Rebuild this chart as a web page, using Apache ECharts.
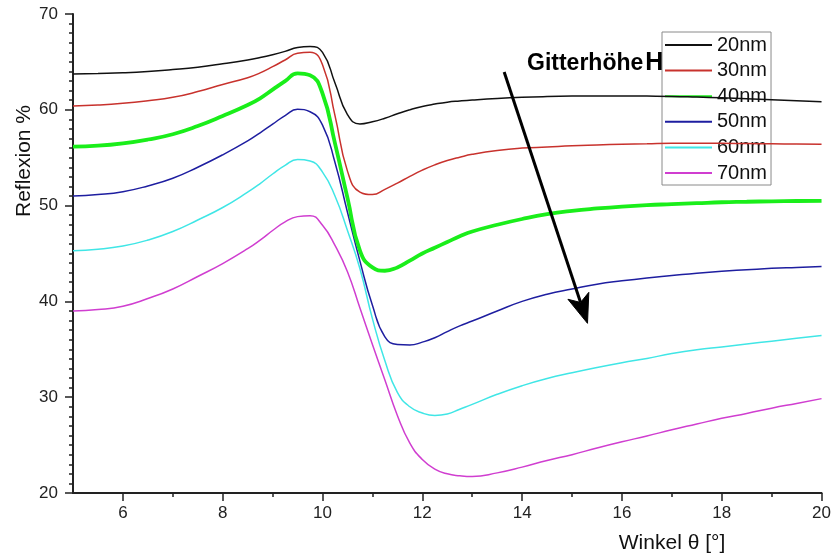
<!DOCTYPE html>
<html>
<head>
<meta charset="utf-8">
<script src="https://cdn.jsdelivr.net/npm/echarts@6/dist/echarts.min.js"></script>
<style>
  html, body { margin: 0; padding: 0; background: #fff; }
  #chart { width: 834px; height: 557px; }
</style>
</head>
<body>
<div id="chart"></div>
<script>
// Angle of incidence (degrees): coarse on the flanks, finer around the resonance
const angles = [
  5, 5.5, 6, 6.5, 7, 7.5, 8, 8.5,
  8.75, 9, 9.25, 9.5, 9.75, 10, 10.25, 10.5, 10.75, 11, 11.25, 11.5, 11.75, 12, 12.25, 12.5, 12.75, 13,
  13.5, 14, 14.5, 15, 15.5, 16, 16.5, 17, 17.5, 18, 18.5, 19, 19.5, 20];

// Reflection (%) for each grating height
const h20 = [
  63.74, 63.8, 63.87, 64.0, 64.2, 64.45, 64.8, 65.2,
  65.45, 65.75, 66.1, 66.5, 66.62, 66.0, 62.8, 59.5, 58.52, 58.75, 59.12, 59.58, 60.0, 60.35, 60.6, 60.8, 60.92, 61.02,
  61.18, 61.3, 61.38, 61.43, 61.45, 61.45, 61.43, 61.4, 61.33, 61.25, 61.15, 61.05, 60.95, 60.85];
const h30 = [
  60.4, 60.5, 60.68, 60.95, 61.3, 61.9, 62.65, 63.35,
  63.85, 64.5, 65.2, 65.9, 66.0, 64.7, 59.4, 53.6, 51.4, 51.15, 51.7, 52.35, 53.05, 53.7, 54.25, 54.7, 55.05, 55.35,
  55.75, 56.0, 56.12, 56.25, 56.33, 56.4, 56.45, 56.5, 56.5, 56.5, 56.47, 56.45, 56.43, 56.4];
const h40 = [
  56.15, 56.25, 56.5, 56.9, 57.45, 58.3, 59.35, 60.5,
  61.2, 62.1, 63.0, 63.8, 63.6, 61.7, 56.5, 50.8, 45.3, 43.55, 43.2, 43.55, 44.25, 45.0, 45.6, 46.2, 46.8, 47.3,
  48.0, 48.6, 49.1, 49.45, 49.7, 49.9, 50.05, 50.15, 50.25, 50.35, 50.4, 50.45, 50.48, 50.5];
const h50 = [
  51.0, 51.15, 51.45, 52.05, 52.85, 54.0, 55.3, 56.75,
  57.6, 58.5, 59.4, 60.05, 59.8, 58.4, 54.5, 49.3, 44.2, 39.6, 36.3, 35.5, 35.45, 35.75, 36.2, 36.85, 37.45, 37.95,
  39.0, 40.0, 40.75, 41.3, 41.8, 42.15, 42.45, 42.7, 42.95, 43.15, 43.3, 43.45, 43.55, 43.65];
const h60 = [
  45.3, 45.45, 45.78, 46.4, 47.3, 48.5, 49.8, 51.4,
  52.3, 53.3, 54.2, 54.8, 54.65, 53.5, 51.0, 47.4, 43.4, 38.2, 33.8, 30.5, 29.0, 28.35, 28.1, 28.25, 28.75, 29.25,
  30.3, 31.2, 31.95, 32.55, 33.1, 33.6, 34.05, 34.55, 34.95, 35.25, 35.55, 35.85, 36.15, 36.45];
const h70 = [
  39.0, 39.15, 39.5, 40.3, 41.3, 42.6, 43.95, 45.5,
  46.4, 47.4, 48.3, 48.85, 48.95, 47.95, 45.85, 43.1, 39.3, 35.5, 31.8, 28.1, 25.2, 23.5, 22.5, 22.0, 21.8, 21.72,
  22.1, 22.7, 23.4, 24.0, 24.7, 25.35, 25.95, 26.6, 27.2, 27.8, 28.3, 28.85, 29.35, 29.85];

const seriesNames = ['20nm', '30nm', '40nm', '50nm', '60nm', '70nm'];
const seriesValues = [h20, h30, h40, h50, h60, h70];
const seriesColors = ['#111111', '#c8322d', '#1aee1a', '#1e1ea0', '#40e6e6', '#d03ed0'];
const seriesWidths = [1.5, 1.5, 3.8, 1.5, 1.5, 1.5];

// Axis ticks
const xMajorTicks = [6, 8, 10, 12, 14, 16, 18, 20];
const xMinorTicks = [7, 9, 11, 13, 15, 17, 19];

// Trend arrow (angle, reflection) from tail to tip
const arrowFrom = [13.64, 63.95];
const arrowTo = [15.31, 37.71];

const FONT = '"Liberation Sans", Arial, Helvetica, sans-serif';

const chart = echarts.init(document.getElementById('chart'), null, { renderer: 'canvas' });

const series = seriesNames.map((name, k) => ({
  name: name,
  type: 'line',
  xAxisIndex: 0,
  yAxisIndex: 0,
  data: angles.map((a, i) => [a, seriesValues[k][i]]),
  smooth: 0.5,
  symbol: 'none',
  z: 2 + (k === 0 ? 6 : 6 - k),
  lineStyle: { color: seriesColors[k], width: seriesWidths[k] },
  itemStyle: { color: seriesColors[k] },
  emphasis: { disabled: true },
  animation: false
}));

const axisColor = '#222';

chart.setOption({
  animation: false,
  backgroundColor: '#fff',
  grid: { left: 73, right: 11, top: 14, bottom: 64, containLabel: false },
  xAxis: [
    {
      type: 'value', min: 5, max: 20, interval: 1, position: 'bottom',
      axisLine: { show: true, lineStyle: { color: axisColor, width: 2 } },
      axisTick: { show: true, length: 8, customValues: xMajorTicks, lineStyle: { color: axisColor, width: 1.5 } },
      axisLabel: { customValues: xMajorTicks, margin: 12, fontSize: 17, color: '#222', fontFamily: FONT },
      splitLine: { show: false }
    },
    {
      type: 'value', min: 5, max: 20, interval: 1, position: 'bottom',
      axisLine: { show: false },
      axisTick: { show: true, length: 4, customValues: xMinorTicks, lineStyle: { color: axisColor, width: 1.5 } },
      axisLabel: { show: false },
      splitLine: { show: false }
    }
  ],
  yAxis: {
    type: 'value', min: 20, max: 70, interval: 10,
    axisLine: { show: true, lineStyle: { color: axisColor, width: 2 } },
    axisTick: { show: true, length: 8, lineStyle: { color: axisColor, width: 1.5 } },
    minorTick: { show: true, splitNumber: 10, length: 4, lineStyle: { color: axisColor, width: 1.5 } },
    axisLabel: { margin: 15, fontSize: 17, color: '#222', fontFamily: FONT },
    splitLine: { show: false },
    minorSplitLine: { show: false }
  },
  legend: {
    orient: 'vertical',
    left: 662, top: 32,
    padding: [3, 4, 2, 2],
    itemWidth: 47, itemHeight: 14, itemGap: 5.6,
    backgroundColor: '#fff',
    borderColor: '#8a8a8a', borderWidth: 1,
    selectedMode: false,
    itemStyle: { opacity: 0, borderWidth: 0 },
    textStyle: { fontSize: 20, lineHeight: 20, color: '#111', fontFamily: FONT },
    data: seriesNames
  },
  series: series
});

function drawAnnotations() {
  const p0 = chart.convertToPixel({ xAxisIndex: 0, yAxisIndex: 0 }, arrowFrom);
  const p1 = chart.convertToPixel({ xAxisIndex: 0, yAxisIndex: 0 }, arrowTo);
  const dx = p1[0] - p0[0], dy = p1[1] - p0[1];
  const len = Math.sqrt(dx * dx + dy * dy);
  const ux = dx / len, uy = dy / len;
  const nx = -uy, ny = ux;
  const headLen = 29, notch = 22, halfW = 11;
  const notchPt = [p1[0] - ux * notch, p1[1] - uy * notch];
  const barbA = [p1[0] - ux * headLen + nx * halfW, p1[1] - uy * headLen + ny * halfW];
  const barbB = [p1[0] - ux * headLen - nx * halfW, p1[1] - uy * headLen - ny * halfW];

  chart.setOption({
    graphic: [
      {
        type: 'polyline', z: 20,
        shape: { points: [p0, notchPt] },
        style: { stroke: '#000', lineWidth: 3 }
      },
      {
        type: 'polygon', z: 20,
        shape: { points: [p1, barbA, notchPt, barbB] },
        style: { fill: '#000', stroke: '#000', lineWidth: 1 }
      },
      {
        type: 'text', z: 21, left: 527, top: 51,
        style: {
          text: '{a|Gitterhöhe}{b|H}',
          fill: '#000',
          rich: {
            a: { fontSize: 23, fontWeight: 'bold', fontFamily: FONT, fill: '#000' },
            b: { fontSize: 25, fontWeight: 'bold', fontFamily: FONT, fill: '#000', padding: [0, 0, 0, 2] }
          }
        }
      },
      {
        type: 'text', z: 21, x: 672, y: 543,
        style: { text: 'Winkel θ [°]', fontSize: 21, fontFamily: FONT, fill: '#111', align: 'center', verticalAlign: 'middle' }
      },
      {
        type: 'text', z: 21, x: 24, y: 161, rotation: Math.PI / 2,
        style: { text: 'Reflexion %', fontSize: 21, fontFamily: FONT, fill: '#111', align: 'center', verticalAlign: 'middle' }
      }
    ]
  });
}
drawAnnotations();
</script>
</body>
</html>
